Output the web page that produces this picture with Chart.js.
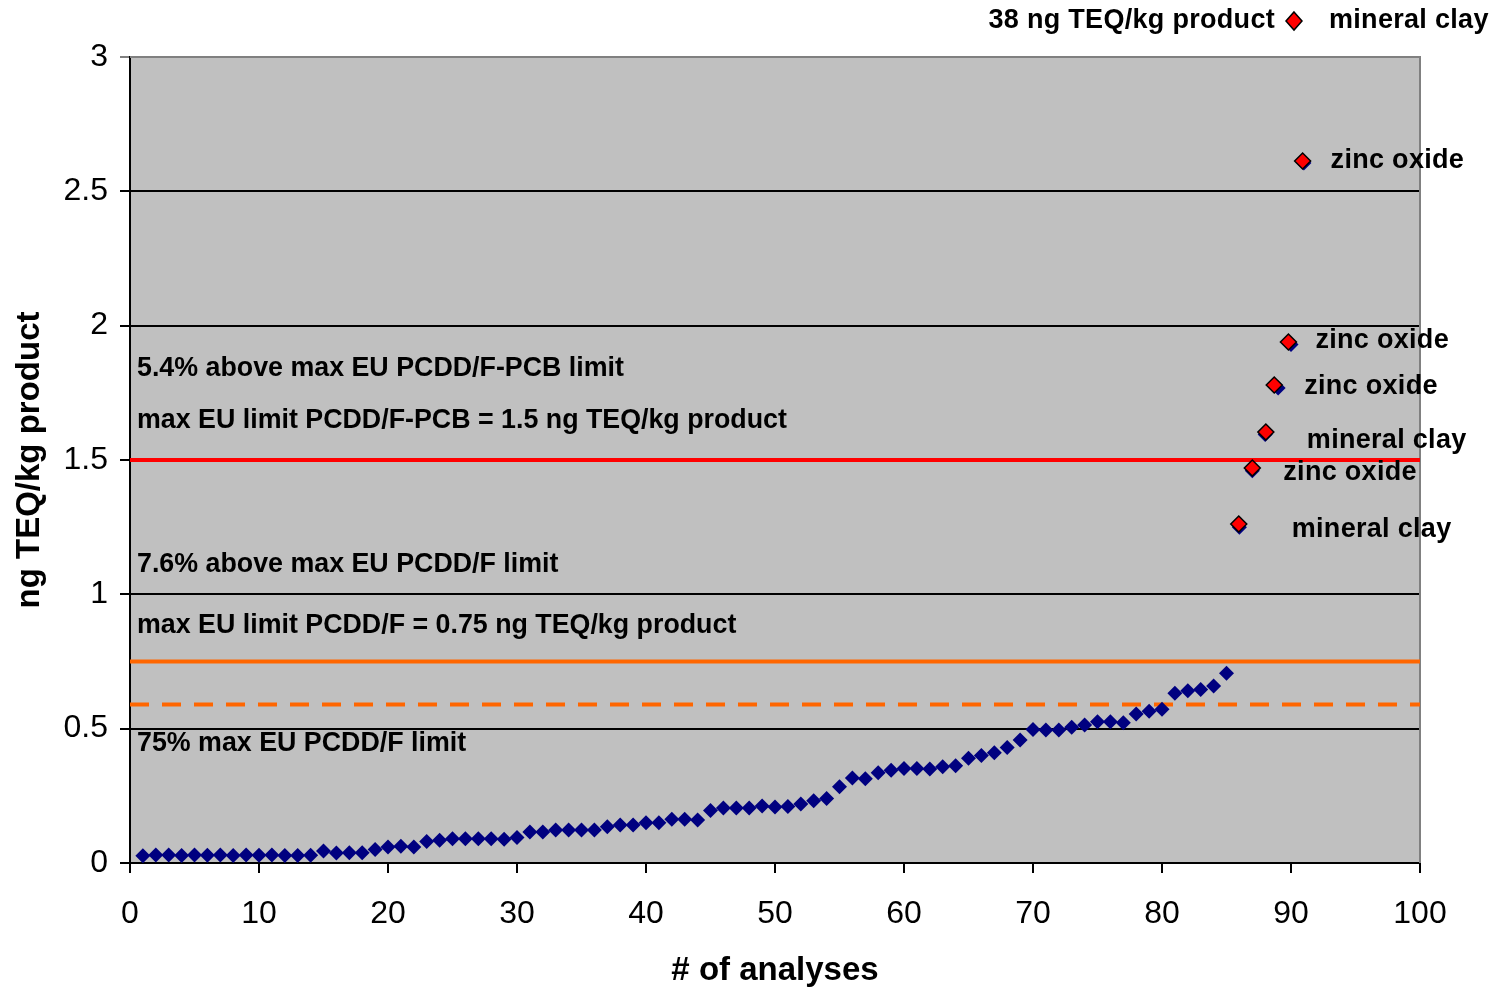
<!DOCTYPE html>
<html>
<head>
<meta charset="utf-8">
<script src="https://cdn.jsdelivr.net/npm/chart.js@4.4.0/dist/chart.umd.min.js"></script>
<style>
  html, body { margin: 0; padding: 0; background: #fff; }
  canvas { display: block; }
</style>
</head>
<body>
<canvas id="teqChart" width="1507" height="989"></canvas>
<script>
// sorted analyses, ng TEQ/kg product (analysis 1..91)
const analysisValues = [
  0.027, 0.030, 0.030, 0.028, 0.030, 0.029, 0.030, 0.028, 0.030, 0.029,
  0.030, 0.028, 0.028, 0.029, 0.045, 0.037, 0.038, 0.038, 0.050, 0.060,
  0.062, 0.060, 0.080, 0.085, 0.090, 0.090, 0.090, 0.090, 0.088, 0.095,
  0.115, 0.115, 0.123, 0.123, 0.123, 0.123, 0.135, 0.141, 0.141, 0.150,
  0.150, 0.163, 0.163, 0.160, 0.195, 0.205, 0.205, 0.205, 0.212, 0.208,
  0.210, 0.220, 0.232, 0.240, 0.284, 0.316, 0.314, 0.336, 0.345, 0.352,
  0.352, 0.350, 0.358, 0.362, 0.390, 0.400, 0.410, 0.430, 0.458, 0.497,
  0.495, 0.495, 0.505, 0.514, 0.526, 0.526, 0.522, 0.555, 0.565, 0.572,
  0.632, 0.641, 0.646, 0.659, 0.706, 1.250, 1.460, 1.595, 1.768, 1.930,
  2.605
];

// highlighted samples above the PCDD/F-PCB limit
const outlierX = [85.95, 87.0, 88.05, 88.7, 89.8, 90.9];
const outlierY = [1.262, 1.47, 1.604, 1.779, 1.939, 2.613];
const outlierNames = ['mineral clay', 'zinc oxide', 'mineral clay', 'zinc oxide', 'zinc oxide', 'zinc oxide'];

// limit lines
const limitPcbf = 1.5;
const limitPcddf = 0.75;
const limitPcddf75 = 0.59;

const xTicks = [0, 10, 20, 30, 40, 50, 60, 70, 80, 90, 100];
const yTicks = [0, 0.5, 1, 1.5, 2, 2.5, 3];

const noteTexts = [
  '5.4% above max EU PCDD/F-PCB limit',
  'max EU limit PCDD/F-PCB = 1.5 ng TEQ/kg product',
  '7.6% above max EU PCDD/F limit',
  'max EU limit PCDD/F = 0.75 ng TEQ/kg product',
  '75% max EU PCDD/F limit'
];
const noteLevels = [1.839, 1.645, 1.109, 0.882, 0.443];

// where each sample name sits relative to its marker
const nameOffsets = [[53, 6], [31, 4], [41, 8], [30, 2], [27, -2], [28, 0]];

const family = '"Liberation Sans", Arial, sans-serif';
const noteFont = 'bold 26.8px ' + family;
const labelFont = 'bold 27px ' + family;

const hline = (y, color, dash, width) => ({
  type: 'line',
  data: [{ x: 0, y: y }, { x: 100, y: y }],
  borderColor: color,
  borderWidth: width,
  borderDash: dash,
  pointRadius: 0,
  order: 3
});

const plotFrame = {
  id: 'plotFrame',
  beforeDraw(chart) {
    const { ctx, chartArea: a } = chart;
    ctx.save();
    ctx.fillStyle = '#c0c0c0';
    ctx.fillRect(a.left, a.top, a.right - a.left, a.bottom - a.top);
    ctx.restore();
  },
  beforeDatasetsDraw(chart) {
    const { ctx, chartArea: a } = chart;
    ctx.save();
    ctx.strokeStyle = '#808080';
    ctx.lineWidth = 2;
    ctx.beginPath();
    ctx.moveTo(a.left, a.top);
    ctx.lineTo(a.right, a.top);
    ctx.lineTo(a.right, a.bottom);
    ctx.stroke();
    ctx.restore();
  }
};

const textLayer = {
  id: 'textLayer',
  afterDatasetsDraw(chart) {
    const { ctx, chartArea: a, scales: { x, y } } = chart;
    ctx.save();
    ctx.fillStyle = '#000';
    ctx.textBaseline = 'middle';
    ctx.textAlign = 'left';

    ctx.font = noteFont;
    noteTexts.forEach((t, i) => {
      ctx.fillText(t, a.left + 7, y.getPixelForValue(noteLevels[i]));
    });

    ctx.font = labelFont;
    ctx.letterSpacing = '0.3px';
    outlierNames.forEach((name, i) => {
      const px = x.getPixelForValue(outlierX[i]);
      const py = y.getPixelForValue(outlierY[i]);
      ctx.fillText(name, px + nameOffsets[i][0], py + nameOffsets[i][1]);
    });

    // off-scale sample noted above the plot
    ctx.textAlign = 'right';
    ctx.fillText('38 ng TEQ/kg product', 1275, 21);
    ctx.textAlign = 'left';
    ctx.fillText('mineral clay', 1329, 21);
    ctx.beginPath();
    ctx.moveTo(1294, 12);
    ctx.lineTo(1302, 21);
    ctx.lineTo(1294, 30);
    ctx.lineTo(1286, 21);
    ctx.closePath();
    ctx.fillStyle = '#ff0000';
    ctx.fill();
    ctx.lineWidth = 1.5;
    ctx.strokeStyle = '#000';
    ctx.stroke();
    ctx.restore();
  }
};

new Chart(document.getElementById('teqChart'), {
  type: 'scatter',
  data: {
    datasets: [
      {
        label: 'analyses',
        data: analysisValues.map((v, i) => ({ x: i + 1, y: v })),
        pointStyle: 'rectRot',
        pointRadius: 7.5,
        backgroundColor: '#000080',
        borderColor: '#000080',
        borderWidth: 0,
        order: 2
      },
      {
        label: 'above limit',
        data: outlierX.map((v, i) => ({ x: v, y: outlierY[i] })),
        pointStyle: 'rectRot',
        pointRadius: 8,
        backgroundColor: '#ff0000',
        borderColor: '#000000',
        borderWidth: 1.5,
        order: 1
      },
      hline(limitPcbf, '#ff0000', [], 4),
      hline(limitPcddf, '#ff6600', [], 4),
      hline(limitPcddf75, '#ff6600', [19, 13], 4)
    ]
  },
  options: {
    responsive: false,
    animation: false,
    devicePixelRatio: 1,
    layout: { padding: { top: 57, right: 87, left: 0, bottom: 0 } },
    plugins: { legend: { display: false }, tooltip: { enabled: false } },
    scales: {
      x: {
        type: 'linear',
        min: 0,
        max: 100,
        afterBuildTicks: s => { s.ticks = xTicks.map(v => ({ value: v })); },
        afterFit: s => { s.height = 126; },
        ticks: {
          color: '#000',
          padding: 22,
          maxRotation: 0,
          font: { family: family, size: 32 }
        },
        grid: { drawOnChartArea: false, drawTicks: true, tickLength: 10, color: '#000', lineWidth: 2 },
        border: { color: '#000', width: 2 },
        title: {
          display: true,
          text: '# of analyses',
          color: '#000',
          padding: { top: 0, bottom: 0 },
          font: { family: family, size: 33, weight: 'bold', lineHeight: 1.1 }
        }
      },
      y: {
        min: 0,
        max: 3,
        afterBuildTicks: s => { s.ticks = yTicks.map(v => ({ value: v })); },
        afterFit: s => { s.width = 130; },
        ticks: {
          color: '#000',
          padding: 12,
          callback: v => String(v),
          font: { family: family, size: 32 }
        },
        grid: {
          color: c => (c.tick && c.tick.value === 3 ? '#808080' : '#000'),
          lineWidth: 2,
          tickLength: 10,
          drawTicks: true
        },
        border: { color: '#000', width: 2 },
        title: {
          display: true,
          text: 'ng TEQ/kg product',
          color: '#000',
          padding: { top: 10, bottom: 0 },
          font: { family: family, size: 33, weight: 'bold' }
        }
      }
    }
  },
  plugins: [plotFrame, textLayer]
});
</script>
</body>
</html>
